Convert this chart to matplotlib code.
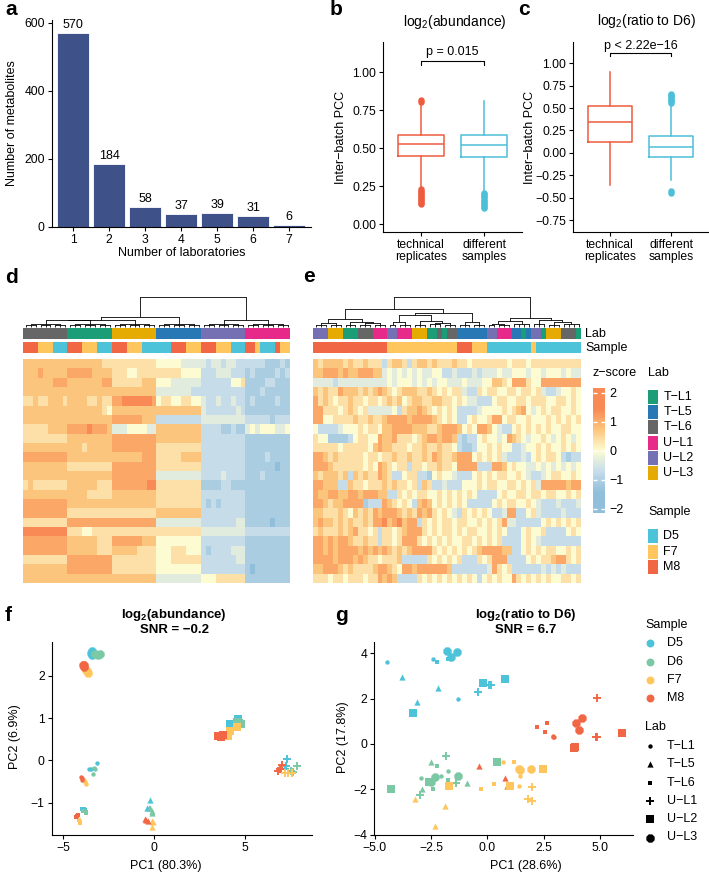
import numpy as np
import matplotlib
matplotlib.use("Agg")
import matplotlib.pyplot as plt
from matplotlib.colors import LinearSegmentedColormap, ListedColormap, Normalize
from matplotlib.cm import ScalarMappable
from matplotlib.patches import Rectangle
from matplotlib.ticker import FuncFormatter

plt.rcParams['font.family'] = ['Liberation Sans', 'DejaVu Sans']
plt.rcParams['mathtext.fontset'] = 'custom'
plt.rcParams['mathtext.rm'] = 'Liberation Sans'
plt.rcParams['mathtext.bf'] = 'Liberation Sans:bold'
plt.rcParams['font.size'] = 8.5
plt.rcParams['axes.linewidth'] = 0.8
plt.rcParams['xtick.major.width'] = 0.8
plt.rcParams['ytick.major.width'] = 0.8
plt.rcParams['xtick.major.size'] = 3
plt.rcParams['ytick.major.size'] = 3
plt.rcParams['xtick.major.pad'] = 2
plt.rcParams['ytick.major.pad'] = 2

MINUS = "\u2212"
TICK_FS = 8.7
LAB_FS = 9

# ---------------- data ----------------
# a: metabolites detected by n laboratories
n_labs = [1, 2, 3, 4, 5, 6, 7]
n_metab = [570, 184, 58, 37, 39, 31, 6]

# b / c: inter-batch PCC boxplots (technical replicates, different samples)
box_groups = ["technical\nreplicates", "different\nsamples"]
b_q1 = [0.449, 0.440]
b_med = [0.529, 0.518]
b_q3 = [0.588, 0.588]
b_lo = [0.236, 0.218]
b_hi = [0.797, 0.810]
b_fliers = [[0.13, 0.14, 0.15, 0.16, 0.17, 0.18, 0.19, 0.20, 0.21, 0.22, 0.23, 0.805, 0.815],
            [0.105, 0.115, 0.125, 0.135, 0.145, 0.155, 0.165, 0.175, 0.185, 0.195, 0.205]]
b_p = "p = 0.015"
c_q1 = [0.123, -0.052]
c_med = [0.340, 0.067]
c_q3 = [0.522, 0.190]
c_lo = [-0.361, -0.300]
c_hi = [0.906, 0.545]
c_fliers = [[],
            [0.56, 0.575, 0.59, 0.605, 0.62, 0.635, 0.65, 0.66, -0.43, -0.445]]
c_p = "p < 2.22e" + MINUS + "16"

# labs / samples
lab_names = ["T-L1", "T-L5", "T-L6", "U-L1", "U-L2", "U-L3"]
lab_colors = ["#1B9E77", "#2878B5", "#666666", "#E7298A", "#7570B3", "#E6AB02"]
sample_names = ["D5", "D6", "F7", "M8"]
sample_colors = ["#4CC3D9", "#7BC8A4", "#FFC65D", "#F16745"]
hm_samples = ["D5", "F7", "M8"]

# d: heatmap of log2(abundance) z-scores (digit k -> z = (k-4)/2)
d_lab = ["T-L6"] * 9 + ["T-L1"] * 9 + ["U-L3"] * 9 + ["T-L5"] * 9 + ["U-L2"] * 9 + ["U-L1"] * 9
d_sample = (["M8"] * 3 + ["F7"] * 3 + ["D5"] * 3) * 3 + ["D5"] * 3 + ["M8"] * 3 + ["F7"] * 3 \
    + ["M8"] * 3 + ["F7"] * 3 + ["D5"] * 3 + ["M8"] * 2 + ["F7"] + ["D5"] * 3 + ["M8"] + ["F7"] * 2
d_rows = [
    "666666666" "666666655" "555555555" "444443333" "323323322" "222211121",
    "666766666" "777776666" "555445555" "555554444" "222333222" "121111212",
    "666666777" "666666677" "555555666" "444333333" "222222445" "111122111",
    "666666666" "666666666" "666666666" "333333322" "222222222" "111211111",
    "556556665" "666655655" "778888887" "455445544" "322322322" "121111211",
    "666666666" "666666654" "666666666" "666666666" "322222232" "111111111",
    "666666666" "666666666" "777777666" "222222222" "333333333" "222221222",
    "555556666" "777787776" "333444433" "666666666" "222211211" "343444334",
    "555555555" "666666666" "777777777" "666666666" "222222222" "111111111",
    "666666666" "666566666" "777777777" "555555555" "222222222" "111111111",
    "777777777" "666666666" "666666777" "555556666" "222222222" "111121111",
    "666666666" "555555555" "777777777" "555555555" "222222222" "111111011",
    "666666666" "666666666" "777777777" "333333333" "222232222" "111211111",
    "565555555" "666666555" "777777788" "555555555" "111122111" "111111111",
    "666666666" "666655555" "666666666" "555555555" "222222222" "111111111",
    "777777777" "666666666" "666666666" "555555555" "212122222" "111111111",
    "777777777" "555555555" "555555555" "666666666" "222222222" "111111111",
    "555555555" "777777777" "777777777" "333333333" "222222233" "111110111",
    "888888888" "555445555" "555555555" "555555555" "333333333" "222222222",
    "777777777" "666666555" "777777666" "444444444" "222222222" "111111111",
    "777777777" "666666555" "666665555" "444555444" "212222333" "111111111",
    "555555555" "777777777" "555555555" "444555555" "222222233" "111111111",
    "666666666" "777777777" "555555555" "444444444" "222222222" "101111111",
    "666666666" "666666666" "666666666" "333333333" "444555555" "111111111",
]
# dendrogram merges over contiguous column ranges: (first, last, height)
d_merges = [(0, 2, 3), (3, 5, 3), (6, 8, 3), (9, 11, 3), (12, 14, 3), (15, 17, 3),
            (18, 20, 3), (21, 23, 3), (24, 26, 3), (27, 29, 3), (30, 32, 3), (33, 35, 3),
            (36, 38, 3), (39, 41, 3), (42, 44, 3), (45, 47, 3), (48, 50, 3), (51, 53, 3),
            (0, 8, 7), (9, 17, 7), (18, 26, 7), (27, 35, 7), (36, 44, 7), (45, 53, 7),
            (0, 17, 18), (0, 26, 20), (0, 35, 28), (36, 53, 20), (0, 53, 88)]

# e: heatmap of log2(ratio to D6) z-scores
e_lab = ["U-L2"] * 3 + ["U-L3"] * 3 + ["T-L1"] * 3 + ["T-L6"] * 3 + ["U-L1"] * 3 \
    + ["U-L2"] * 2 + ["U-L1"] * 3 + ["U-L3"] * 3 + ["T-L1"] * 2 + ["T-L6"] + ["T-L1"] + ["T-L6"] * 2 \
    + ["T-L5"] * 6 + ["U-L2"] * 2 + ["U-L1"] * 3 + ["T-L5"] * 2 + ["T-L1"] + ["T-L5"] \
    + ["U-L2"] * 2 + ["T-L1"] + ["U-L3"] * 3 + ["T-L6"] * 3 + ["T-L1"]
e_sample = ["M8"] * 15 + ["F7"] * 14 + ["M8"] * 3 + ["F7"] * 3 + ["D5"] * 9 + ["F7"] + ["D5"] * 9
e_rows = [
    "656666565" "565552566" "525665655" "565545555" "555455545" "555555555",
    "667776766" "777663434" "343433442" "232223233" "343344434" "434443433",
    "333323333" "333333434" "443434344" "333433344" "665477754" "477777777",
    "656557666" "565676545" "666556545" "455322545" "544554554" "532234454",
    "756545565" "545545656" "456655665" "545433222" "455445545" "554455454",
    "775554565" "453333342" "566765454" "542222344" "445456743" "454554454",
    "774455556" "556556777" "767777654" "542245445" "774554454" "445454545",
    "422223444" "545546677" "776665567" "776454776" "432245454" "545445544",
    "544111124" "554476675" "554567767" "762122454" "434765434" "454345434",
    "555554555" "554676655" "545565565" "542112445" "454422344" "545445454",
    "776565555" "545545565" "565565765" "567774545" "453222324" "545542122",
    "777655555" "545476545" "525545565" "547777222" "776454433" "434343434",
    "656665626" "565576522" "455221454" "432224545" "455445432" "234554454",
    "776662265" "545556565" "545265223" "222444545" "544554545" "377777677",
    "766776677" "677766225" "454554454" "545454222" "245445545" "545544545",
    "776566777" "712227654" "542676454" "545422222" "454554454" "322232223",
    "665556546" "565767776" "565767545" "432545454" "223772245" "322223222",
    "676656565" "565778678" "677254545" "545544545" "457332222" "245454545",
    "565556567" "554525545" "677754545" "545455445" "454222454" "452222454",
    "776767765" "565525545" "777545454" "544554545" "452222454" "322222222",
    "776767777" "676767656" "567777545" "454545677" "776622454" "545544545",
    "777767776" "765545556" "222225454" "545222545" "777222245" "455677545",
    "667776565" "555677654" "776777777" "622222223" "754522222" "232323222",
    "555455455" "545576762" "222545454" "545454245" "454475454" "545445545",
]
e_merges = [(0, 2, 4), (3, 5, 4), (6, 8, 5), (9, 11, 4), (12, 14, 4), (0, 5, 10), (9, 14, 9),
            (6, 14, 14), (0, 14, 21), (15, 16, 4), (17, 19, 5), (15, 19, 12), (20, 22, 5),
            (23, 25, 6), (26, 28, 5), (23, 28, 10), (20, 28, 16), (15, 28, 33), (29, 31, 4),
            (32, 34, 4), (29, 34, 13), (15, 34, 40), (0, 34, 51), (35, 36, 4), (37, 39, 5),
            (35, 39, 8), (40, 43, 6), (35, 43, 15), (44, 46, 7), (47, 49, 5), (50, 53, 6),
            (47, 53, 12), (44, 53, 18), (35, 53, 26), (0, 53, 88)]

# f / g: PCA scores, ordered lab (lab_names) -> sample (sample_names) -> 3 replicates
pca_lab = [lab for lab in lab_names for _ in range(12)]
pca_sample = [s for _ in lab_names for s in sample_names for _ in range(3)]
f_pc1 = [-3.15, -3.6, -3.5, -3.3, -3.35, -3.25, -3.82, -3.78, -3.85, -4.05, -3.98, -4.0,
         -0.22, -0.38, -0.3, -0.13, -0.15, -0.22, -0.15, -0.1, -0.05, -0.5, -0.35, -0.45,
         -3.97, -3.85, -3.8, -3.9, -3.74, -3.78, -4.16, -4.07, -4.1, -4.25, -4.22, -4.28,
         7.29, 7.25, 7.2, 7.84, 7.63, 7.5, 7.18, 7.55, 7.35, 6.78, 7.01, 6.9,
         4.14, 4.58, 4.3, 4.66, 4.75, 4.55, 4.03, 4.14, 4.54, 3.53, 3.77, 3.65,
         -3.5, -3.45, -3.4, -3.25, -3.1, -3.0, -3.75, -3.65, -3.7, -3.9, -3.88, -3.85]
f_pc2 = [-0.05, -0.2, -0.19, -0.18, -0.32, -0.2, -0.5, -0.55, -0.47, -0.4, -0.45, -0.42,
         -0.93, -1.13, -1.12, -1.19, -1.24, -1.12, -1.43, -1.57, -1.45, -1.38, -1.43, -1.4,
         -1.15, -1.14, -1.17, -1.19, -1.25, -1.22, -1.41, -1.49, -1.46, -1.31, -1.29, -1.33,
         0.03, -0.14, -0.2, -0.12, -0.28, -0.25, -0.29, -0.29, -0.3, -0.26, -0.11, -0.2,
         0.86, 0.98, 0.83, 0.89, 0.86, 0.92, 0.57, 0.70, 0.80, 0.57, 0.6, 0.56,
         2.55, 2.5, 2.58, 2.52, 2.5, 2.53, 2.15, 2.08, 2.12, 2.27, 2.22, 2.25]
g_pc1 = [-4.47, -2.44, -1.33, -2.93, -1.75, -2.07, 0.71, 1.45, 1.41, 2.93, 2.9, 2.97,
         -3.78, -3.14, -2.19, -2.89, -2.49, -0.92, -3.23, -1.9, -2.34, -0.37, 0.77, 0.86,
         -2.25, -1.75, -1.56, -2.4, -2.22, -1.75, -0.27, 0.3, 1.19, 2.19, 2.64, 2.55,
         -0.44, 0.07, 0.18, -2.99, -1.85, -1.41, 1.96, 1.78, 1.96, 4.86, 4.86, 4.82,
         -3.29, -0.18, 0.77, -4.27, -2.59, 0.44, -1.70, 1.0, 2.49, 6.0, 3.85, 3.88,
         -1.81, -1.6, -1.36, -2.49, -2.34, -1.33, 1.41, 1.93, 1.45, 3.93, 4.2, 4.07]
g_pc2 = [3.63, 3.74, 1.98, -1.51, -1.19, -1.41, -0.82, -1.41, -1.85, 0.32, 0.35, 0.3,
         2.97, 1.86, 2.45, -2.0, -0.81, -1.73, -2.42, -2.72, -3.61, -0.97, -1.51, -1.85,
         3.63, 3.73, 3.82, -2.0, -0.97, -1.59, -2.0, -1.76, -0.82, 0.76, 0.91, 0.54,
         2.31, 2.6, 2.6, -2.25, -0.53, -1.73, -1.91, -2.44, -2.5, 2.01, 0.29, 0.3,
         1.35, 2.70, 2.85, -2.0, -1.70, -0.82, -1.85, -1.85, -1.12, 0.5, -0.16, -0.15,
         4.11, 3.82, 4.04, -1.66, -1.44, -1.41, -1.12, -1.12, -1.17, 0.91, 1.13, 0.62]

# ---------------- styles ----------------
W, H = 709, 873
bar_color = "#3E5289"
box_colors = ["#EF5B3F", "#4DBFD9"]
lab_marker = {"T-L1": ("o", 10, 0), "T-L5": ("^", 20, 0), "T-L6": ("s", 11, 0),
              "U-L1": ("+", 34, 1.4), "U-L2": ("s", 26, 0), "U-L3": ("8", 42, 0)}
hm_cmap = LinearSegmentedColormap.from_list(
    "zs", [(0.0, "#91bfdb"), (0.25, "#c6dcea"), (0.5, "#fcfcd3"), (0.75, "#fdc67e"), (1.0, "#f98a55")])
hm_norm = Normalize(-2, 2)

fig = plt.figure(figsize=(W / 100, H / 100), dpi=100)


def px_axes(l, t, r, b, **kw):
    return fig.add_axes([l / W, 1 - b / H, (r - l) / W, (b - t) / H], **kw)


def clean(ax):
    ax.spines['top'].set_visible(False)
    ax.spines['right'].set_visible(False)
    ax.tick_params(labelsize=TICK_FS, colors='black')


def fmt_minus(d):
    return FuncFormatter(lambda v, p: f"{v:.{d}f}".replace("-", MINUS))


# ---- a ----
ax = px_axes(51.7, 20, 310.7, 226.7)
bars = ax.bar(n_labs, n_metab, width=0.9, color=bar_color, edgecolor="white", linewidth=0.6)
ax.bar_label(bars, labels=[str(v) for v in n_metab], padding=1.5, fontsize=LAB_FS)
ax.set_xlim(0.4, 7.6)
ax.set_ylim(0, 608)
ax.set_xticks(n_labs)
ax.set_yticks([0, 200, 400, 600])
clean(ax)


# ---- b / c ----
def box_panel(ax, q1, med, q3, lo, hi, fliers, ylim, yticks, p_text, p_y):
    for i in range(2):
        st = dict(q1=q1[i], med=med[i], q3=q3[i], whislo=lo[i], whishi=hi[i], fliers=fliers[i])
        col = box_colors[i]
        ax.bxp([st], positions=[i + 1], widths=0.72, showcaps=False,
               boxprops=dict(color=col, linewidth=1.1),
               medianprops=dict(color=col, linewidth=1.1),
               whiskerprops=dict(color=col, linewidth=1.1),
               flierprops=dict(marker='o', markerfacecolor=col, markeredgecolor=col, markersize=3.6))
    ax.plot([1, 1, 2, 2], [p_y - 0.025, p_y, p_y, p_y - 0.025], color='black', lw=0.8)
    ax.text(1.5, p_y + 0.02, p_text, ha='center', va='bottom', fontsize=LAB_FS)
    ax.set_xlim(0.4, 2.6)
    ax.set_ylim(*ylim)
    ax.set_yticks(yticks)
    ax.yaxis.set_major_formatter(fmt_minus(2))
    ax.set_xticks([1, 2])
    ax.set_xticklabels(box_groups, linespacing=1.0)
    clean(ax)


axb = px_axes(383, 41.7, 522, 231.7)
box_panel(axb, b_q1, b_med, b_q3, b_lo, b_hi, b_fliers, (-0.05, 1.2),
          [0, 0.25, 0.5, 0.75, 1.0], b_p, 1.073)
axc = px_axes(573.3, 41.7, 708, 231.7)
box_panel(axc, c_q1, c_med, c_q3, c_lo, c_hi, c_fliers, (-0.88, 1.24),
          [-0.75, -0.5, -0.25, 0, 0.25, 0.5, 0.75, 1.0], c_p, 1.11)


# ---- d / e heatmaps ----
def draw_dendro(ax, merges):
    pos = {}
    for lo, hi, h in sorted(merges, key=lambda m: m[1] - m[0]):
        children = []
        i = lo
        while i <= hi:
            best = None
            for (a, b) in pos:
                if a == i and b <= hi and (a, b) != (lo, hi):
                    if best is None or b > best[1]:
                        best = (a, b)
            if best is not None:
                children.append(pos[best])
                i = best[1] + 1
            else:
                children.append((i, 0.0))
                i += 1
        for x, ch in children:
            ax.plot([x, x], [ch, h], color='black', lw=0.6, clip_on=False, solid_capstyle='butt')
        ax.plot([children[0][0], children[-1][0]], [h, h], color='black', lw=0.6, clip_on=False)
        pos[(lo, hi)] = ((children[0][0] + children[-1][0]) / 2, h)


def heatmap_panel(left, right, rows, labs, samples, merges):
    z = (np.array([[int(ch) for ch in r] for r in rows]) - 4) / 2
    n = z.shape[1]
    axd = px_axes(left, 296.5, right, 326.5)
    draw_dendro(axd, merges)
    axd.set_xlim(-0.5, n - 0.5)
    axd.set_ylim(0, 88)
    axd.set_axis_off()
    axl = px_axes(left, 328.3, right, 339.3)
    axl.imshow([[lab_names.index(l) for l in labs]], cmap=ListedColormap(lab_colors),
               vmin=-0.5, vmax=len(lab_names) - 0.5, aspect='auto', interpolation='nearest')
    axl.set_axis_off()
    axs = px_axes(left, 342.3, right, 353.3)
    scols = [sample_colors[sample_names.index(s)] for s in hm_samples]
    axs.imshow([[hm_samples.index(s) for s in samples]], cmap=ListedColormap(scols),
               vmin=-0.5, vmax=len(hm_samples) - 0.5, aspect='auto', interpolation='nearest')
    axs.set_axis_off()
    axh = px_axes(left, 359.3, right, 582.7)
    axh.imshow(z, cmap=hm_cmap, norm=hm_norm, aspect='auto', interpolation='nearest')
    axh.set_axis_off()


heatmap_panel(23.3, 290.3, d_rows, d_lab, d_sample, d_merges)
heatmap_panel(313.3, 581, e_rows, e_lab, e_sample, e_merges)

cax = px_axes(592.7, 388.3, 605, 513)
cb = fig.colorbar(ScalarMappable(norm=Normalize(-2.15, 2.15), cmap=LinearSegmentedColormap.from_list(
    "zs2", [hm_cmap(hm_norm(v)) for v in (-2, -2, -1, 0, 1, 2, 2)])), cax=cax, ticks=[-2, -1, 0, 1, 2])
cb.outline.set_visible(False)
cax.yaxis.set_ticks_position('both')
cax.tick_params(which='both', color='white', direction='in', length=3, width=1,
                labelsize=LAB_FS, labelright=True, labelleft=False, pad=3)
cax.yaxis.set_major_formatter(FuncFormatter(lambda v, p: f"{int(v)}".replace("-", MINUS)))


# ---- f / g PCA ----
def pca_panel(ax, xs, ys):
    for lab in lab_names:
        mk, sz, lw = lab_marker[lab]
        for s, col in zip(sample_names, sample_colors):
            idx = [i for i in range(len(xs)) if pca_lab[i] == lab and pca_sample[i] == s]
            ax.scatter([xs[i] for i in idx], [ys[i] for i in idx], marker=mk, s=sz,
                       color=col, linewidths=lw, zorder=3)
    clean(ax)


axf = px_axes(51.7, 641.7, 311.7, 835.3)
pca_panel(axf, f_pc1, f_pc2)
axf.set_xlim(-5.64, 8.66)
axf.set_ylim(-1.77, 2.81)
axf.set_xticks([-5, 0, 5])
axf.set_yticks([-1, 0, 1, 2])

axg = px_axes(374, 641.7, 633.3, 835)
pca_panel(axg, g_pc1, g_pc2)
axg.set_xlim(-5.04, 6.48)
axg.set_ylim(-4.02, 4.51)
axg.set_xticks([-5, -2.5, 0, 2.5, 5])
axg.xaxis.set_major_formatter(fmt_minus(1))
axg.set_yticks([-4, -2, 0, 2, 4])

# ---- overlay: titles, labels, legends, panel letters ----
ov = px_axes(0, 0, W, H, zorder=10)
ov.set_xlim(0, W)
ov.set_ylim(H, 0)
ov.set_axis_off()
ov.patch.set_visible(False)

for letter, x, y in [("a", 5, 15), ("b", 330, 15), ("c", 518, 15), ("d", 5, 283),
                     ("e", 303, 282), ("f", 5, 621), ("g", 335, 621)]:
    ov.text(x, y, letter, fontsize=15, fontweight='bold', va='baseline', ha='left')

ov.text(12.5, 123, "Number of metabolites", rotation=90, ha='center', va='center', fontsize=LAB_FS)
ov.text(182, 253, "Number of laboratories", ha='center', va='center', fontsize=LAB_FS)
ov.text(341, 137, "Inter" + MINUS + "batch PCC", rotation=90, ha='center', va='center', fontsize=LAB_FS)
ov.text(530, 137, "Inter" + MINUS + "batch PCC", rotation=90, ha='center', va='center', fontsize=LAB_FS)
ov.text(455, 22, r"log$_2$(abundance)", ha='center', va='center', fontsize=10)
ov.text(646, 21, r"log$_2$(ratio to D6)", ha='center', va='center', fontsize=10)

TITLE_FS = 9.5
ov.text(174, 618, r"log$_\mathbf{2}$(abundance)", ha='center', va='baseline', fontsize=TITLE_FS, fontweight='bold')
ov.text(174, 633, "SNR = " + MINUS + "0.2", ha='center', va='baseline', fontsize=TITLE_FS, fontweight='bold')
ov.text(526, 618, r"log$_\mathbf{2}$(ratio to D6)", ha='center', va='baseline', fontsize=TITLE_FS, fontweight='bold')
ov.text(526, 633, "SNR = 6.7", ha='center', va='baseline', fontsize=TITLE_FS, fontweight='bold')
ov.text(166, 866, "PC1 (80.3%)", ha='center', va='center', fontsize=LAB_FS)
ov.text(15, 737, "PC2 (6.9%)", rotation=90, ha='center', va='center', fontsize=LAB_FS)
ov.text(526, 866, "PC1 (28.6%)", ha='center', va='center', fontsize=LAB_FS)
ov.text(343, 737, "PC2 (17.8%)", rotation=90, ha='center', va='center', fontsize=LAB_FS)

# heatmap annotation names
ov.text(585, 333.8, "Lab", ha='left', va='center', fontsize=LAB_FS)
ov.text(585, 347.8, "Sample", ha='left', va='center', fontsize=LAB_FS)
ov.text(592.5, 373, "z" + MINUS + "score", ha='left', va='center', fontsize=LAB_FS)

# heatmap legends
ov.text(648.3, 373, "Lab", ha='left', va='center', fontsize=LAB_FS)
for i, (lab, col) in enumerate(zip(lab_names, lab_colors)):
    yc = 396.7 + 15.3 * i
    ov.add_patch(Rectangle((648.3, yc - 7), 10, 14, color=col, lw=0))
    ov.text(663.3, yc, lab.replace("-", MINUS), ha='left', va='center', fontsize=LAB_FS)
ov.text(648.3, 512, "Sample", ha='left', va='center', fontsize=LAB_FS)
for i, s in enumerate(hm_samples):
    yc = 536.3 + 15.3 * i
    ov.add_patch(Rectangle((648.3, yc - 7), 10, 14, color=sample_colors[sample_names.index(s)], lw=0))
    ov.text(663.3, yc, s, ha='left', va='center', fontsize=LAB_FS)

# PCA legends
ov.text(645, 625, "Sample", ha='left', va='center', fontsize=LAB_FS)
for i, (s, col) in enumerate(zip(sample_names, sample_colors)):
    yc = 643.3 + 18.3 * i
    ov.scatter([650], [yc], marker='o', s=22, color=col)
    ov.text(666.7, yc, s, ha='left', va='center', fontsize=LAB_FS)
ov.text(645, 726.7, "Lab", ha='left', va='center', fontsize=LAB_FS)
for i, lab in enumerate(lab_names):
    yc = 746 + 18.3 * i
    mk, sz, lw = lab_marker[lab]
    ov.scatter([650], [yc], marker=mk, s=sz, color='black', linewidths=lw)
    ov.text(666.7, yc, lab.replace("-", MINUS), ha='left', va='center', fontsize=LAB_FS)

fig.savefig("out.png", dpi=100)
